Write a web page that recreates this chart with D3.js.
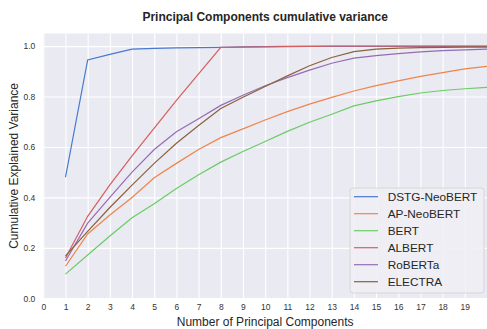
<!DOCTYPE html>
<html>
<head>
<meta charset="utf-8">
<script src="https://cdn.jsdelivr.net/npm/d3@7/dist/d3.min.js"></script>
<style>
  body { margin: 0; background: #fff; }
  svg { display: block; font-family: 'Liberation Sans', Arial, sans-serif; }
</style>
</head>
<body>
<svg id="chart" width="487" height="329"></svg>
<script>
// number of components on the x axis
var components = d3.range(1, 21);

var dstgNeoBert = [0.48, 0.945, 0.967, 0.988, 0.991, 0.993, 0.994, 0.995, 0.997, 0.998,
  0.999, 0.999, 0.999, 0.999, 0.999, 0.999, 0.999, 0.999, 0.999, 0.999];
var apNeoBert = [0.127, 0.255, 0.33, 0.40, 0.478, 0.535, 0.59, 0.637, 0.672, 0.707,
  0.74, 0.77, 0.797, 0.822, 0.843, 0.862, 0.88, 0.895, 0.91, 0.92];
var bert = [0.096, 0.172, 0.247, 0.319, 0.375, 0.435, 0.49, 0.54, 0.582, 0.622,
  0.662, 0.698, 0.73, 0.763, 0.783, 0.8, 0.814, 0.824, 0.831, 0.836];
var albert = [0.16, 0.325, 0.45, 0.565, 0.675, 0.785, 0.89, 0.995, 0.996, 0.997,
  0.998, 0.999, 1.0, 1.0, 1.0, 1.0, 1.0, 1.0, 1.0, 1.0];
var roberta = [0.148, 0.298, 0.40, 0.50, 0.59, 0.66, 0.712, 0.765, 0.805, 0.843,
  0.875, 0.905, 0.932, 0.952, 0.962, 0.97, 0.977, 0.982, 0.985, 0.988];
var electra = [0.168, 0.265, 0.36, 0.449, 0.535, 0.615, 0.685, 0.753, 0.797, 0.84,
  0.882, 0.922, 0.955, 0.978, 0.988, 0.992, 0.994, 0.995, 0.996, 0.996];

var seriesNames = ['DSTG-NeoBERT', 'AP-NeoBERT', 'BERT', 'ALBERT', 'RoBERTa', 'ELECTRA'];
var seriesValues = [dstgNeoBert, apNeoBert, bert, albert, roberta, electra];
var colors = ['#4878d0', '#ee854a', '#6acc64', '#d65f5f', '#956cb4', '#8c613c'];

var xTicks = d3.range(0, 20);
var yTicks = [0, 0.2, 0.4, 0.6, 0.8, 1.0];

var plotLeft = 43.3, plotRight = 487, plotTop = 33.5, plotBottom = 298.3;

var svg = d3.select('#chart');

var x = d3.scaleLinear().domain([0, 20]).range([plotLeft, plotRight]);
var y = d3.scaleLinear().domain([0, 1.05]).range([plotBottom, plotTop]);

svg.append('rect')
  .attr('x', plotLeft)
  .attr('y', plotTop)
  .attr('width', plotRight - plotLeft)
  .attr('height', plotBottom - plotTop)
  .attr('fill', '#eaeaf2');

// grid
var xAxis = d3.axisBottom(x)
  .tickValues(xTicks)
  .tickSize(-(plotBottom - plotTop))
  .tickPadding(6)
  .tickFormat(d3.format('d'));

var yAxis = d3.axisLeft(y)
  .tickValues(yTicks)
  .tickSize(-(plotRight - plotLeft))
  .tickPadding(8)
  .tickFormat(d3.format('.1f'));

var gx = svg.append('g')
  .attr('transform', 'translate(0,' + plotBottom + ')')
  .call(xAxis);

var gy = svg.append('g')
  .attr('transform', 'translate(' + plotLeft + ',0)')
  .call(yAxis);

[gx, gy].forEach(function(g) {
  g.select('.domain').remove();
  g.selectAll('.tick line')
    .attr('stroke', '#fff')
    .attr('stroke-width', 1.1);
  g.selectAll('.tick text')
    .attr('fill', '#333')
    .style('font-size', '8.5px')
    .style('font-family', "'Liberation Sans', Arial, sans-serif");
});

var line = d3.line()
  .x(function(d, i) { return x(components[i]); })
  .y(function(d) { return y(d); });

svg.append('g')
  .selectAll('path')
  .data(seriesValues)
  .enter()
  .append('path')
  .attr('d', line)
  .attr('fill', 'none')
  .attr('stroke', function(d, i) { return colors[i]; })
  .attr('stroke-width', 1.2);

// title and labels
svg.append('text')
  .attr('x', (plotLeft + plotRight) / 2)
  .attr('y', 21)
  .attr('text-anchor', 'middle')
  .attr('fill', '#262626')
  .style('font-size', '12px')
  .style('font-weight', 'bold')
  .text('Principal Components cumulative variance');

svg.append('text')
  .attr('x', (plotLeft + plotRight) / 2)
  .attr('y', 326)
  .attr('text-anchor', 'middle')
  .attr('fill', '#262626')
  .style('font-size', '12px')
  .text('Number of Principal Components');

svg.append('text')
  .attr('transform', 'translate(18,' + (plotTop + plotBottom) / 2 + ') rotate(-90)')
  .attr('text-anchor', 'middle')
  .attr('fill', '#262626')
  .style('font-size', '12px')
  .text('Cumulative Explained Variance');

// legend
var legend = svg.append('g').attr('transform', 'translate(350,188)');

legend.append('rect')
  .attr('width', 134)
  .attr('height', 105)
  .attr('rx', 3)
  .attr('fill', '#eeeef4')
  .attr('fill-opacity', 0.9)
  .attr('stroke', '#d0d0d0')
  .attr('stroke-width', 0.8);

var item = legend.selectAll('.item')
  .data(seriesNames)
  .enter()
  .append('g')
  .attr('class', 'item')
  .attr('transform', function(d, i) { return 'translate(0,' + (8.7 + i * 17) + ')'; });

item.append('line')
  .attr('x1', 4)
  .attr('x2', 28)
  .attr('stroke', function(d, i) { return colors[i]; })
  .attr('stroke-width', 1.2);

item.append('text')
  .attr('x', 37.7)
  .attr('dy', '0.35em')
  .attr('fill', '#262626')
  .style('font-size', '11.8px')
  .text(function(d) { return d; });
</script>
</body>
</html>
